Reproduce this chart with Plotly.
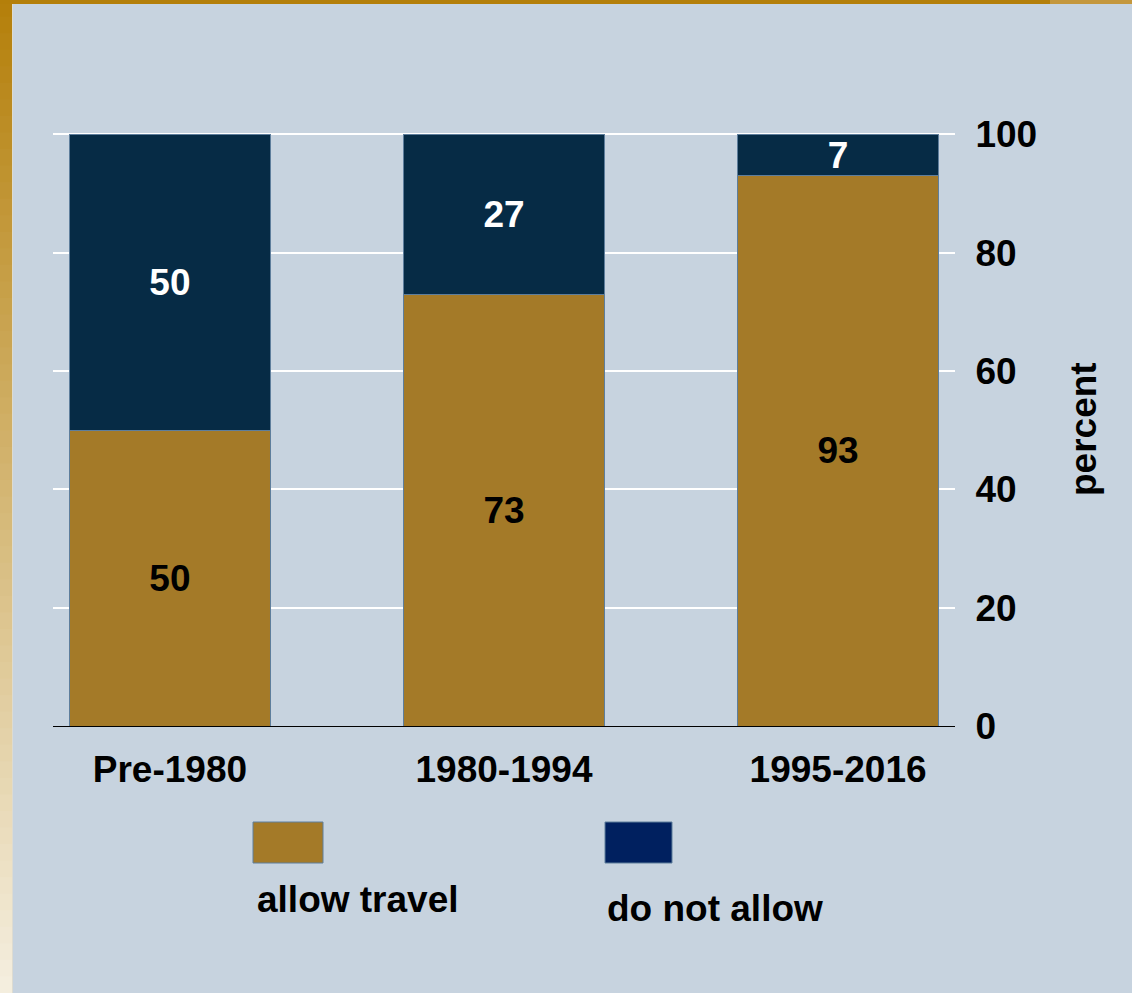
import plotly.graph_objects as go

# ---- data ----
categories = ["Pre-1980", "1980-1994", "1995-2016"]
allow_travel = [50, 73, 93]
do_not_allow = [50, 27, 7]
series_names = ["allow travel", "do not allow"]
y_ticks = [0, 20, 40, 60, 80, 100]
axis_title = "percent"

# ---- styling ----
W, H = 1132, 993
PL, PR, PT, PB = 53, 955, 132, 726  # plot area in pixels
GOLD = "#A47A28"
NAVY_BAR = "#062B45"
NAVY_LEG = "#00205F"
PANEL = "#C7D3DF"
OUTLINE = "#5E7E9C"
FONT = "Liberation Sans, Arial, sans-serif"
FS = 37


def px_x(p):
    return (p - PL) / (PR - PL)


def px_y(p):
    return (PB - p) / (PB - PT)


fig = go.Figure()
fig.add_trace(go.Bar(
    name=series_names[0], x=categories, y=allow_travel,
    marker=dict(color=GOLD, line=dict(color=OUTLINE, width=1)),
    texttemplate="%{y}", textposition="inside", insidetextanchor="middle",
    textangle=0,
    textfont=dict(family=FONT, size=FS, color="black", weight="bold"),
    showlegend=False,
))
fig.add_trace(go.Bar(
    name=series_names[1], x=categories, y=do_not_allow,
    marker=dict(color=NAVY_BAR, line=dict(color=OUTLINE, width=1)),
    texttemplate="%{y}", textposition="inside", insidetextanchor="middle",
    textangle=0,
    textfont=dict(family=FONT, size=FS, color="white", weight="bold"),
    showlegend=False,
))

shapes = []
# left gradient strip
c0 = (180, 127, 10)
c1 = (245, 239, 224)
N = 60
for i in range(N):
    t = (i + 0.5) / N
    col = "rgb(%d,%d,%d)" % tuple(round(c0[k] + (c1[k] - c0[k]) * t) for k in range(3))
    ya = i * H / N
    yb = (i + 1) * H / N + 1
    shapes.append(dict(type="rect", xref="paper", yref="paper", layer="below",
                       x0=px_x(0), x1=px_x(12), y0=px_y(ya), y1=px_y(min(yb, H)),
                       fillcolor=col, line=dict(width=0)))
# thin light border of strip
shapes.append(dict(type="rect", xref="paper", yref="paper", layer="below",
                   x0=px_x(12), x1=px_x(13), y0=px_y(H), y1=px_y(4),
                   fillcolor="rgba(235,225,200,0.6)", line=dict(width=0)))
# top strip
shapes.append(dict(type="rect", xref="paper", yref="paper", layer="below",
                   x0=px_x(0), x1=px_x(1050), y0=px_y(4), y1=px_y(0),
                   fillcolor="#B47F0A", line=dict(width=0)))
shapes.append(dict(type="rect", xref="paper", yref="paper", layer="below",
                   x0=px_x(1050), x1=px_x(W), y0=px_y(4), y1=px_y(0),
                   fillcolor="#C4973D", line=dict(width=0)))

# legend swatches
leg_swatches = [(253, 323, GOLD), (605, 672, NAVY_LEG)]
for x0, x1, col in leg_swatches:
    shapes.append(dict(type="rect", xref="paper", yref="paper",
                       x0=px_x(x0), x1=px_x(x1), y0=px_y(863), y1=px_y(822),
                       fillcolor=col, line=dict(color=OUTLINE, width=1)))

annotations = []
leg_text_pos = [(255, 900), (605, 908)]
for (lx, ly), name in zip(leg_text_pos, series_names):
    annotations.append(dict(text=name, xref="paper", yref="paper",
                            x=px_x(lx), y=px_y(ly), xanchor="left", yanchor="middle",
                            showarrow=False,
                            font=dict(family=FONT, size=FS, color="black", weight="bold")))
annotations.append(dict(text=axis_title, xref="paper", yref="paper",
                        x=px_x(1083), y=0.5, xanchor="center", yanchor="middle",
                        textangle=-90, showarrow=False,
                        font=dict(family=FONT, size=FS, color="black", weight="bold")))

fig.update_layout(
    width=W, height=H, autosize=False,
    margin=dict(l=PL, r=W - PR, t=PT, b=H - PB, pad=0),
    paper_bgcolor=PANEL, plot_bgcolor=PANEL,
    barmode="stack", bargap=0.4,
    uniformtext=dict(minsize=FS, mode="show"),
    shapes=shapes, annotations=annotations,
    font=dict(family=FONT, size=FS, color="black", weight="bold"),
    xaxis=dict(range=[-0.35, 2.35], showline=True, linecolor="black", linewidth=1,
               showgrid=False, zeroline=False, ticks="outside", ticklen=11,
               tickcolor="rgba(0,0,0,0)",
               tickfont=dict(family=FONT, size=FS, color="black", weight="bold")),
    yaxis=dict(range=[0, 100.4], side="right", tickvals=y_ticks,
               showgrid=True, gridcolor="white", gridwidth=2, zeroline=False,
               showline=False, ticks="outside", ticklen=12,
               tickcolor="rgba(0,0,0,0)",
               tickfont=dict(family=FONT, size=FS, color="black", weight="bold")),
)

fig.write_html("out.html", config={"displayModeBar": False},
               post_script="document.body.style.margin='0';document.body.style.overflow='hidden';")
